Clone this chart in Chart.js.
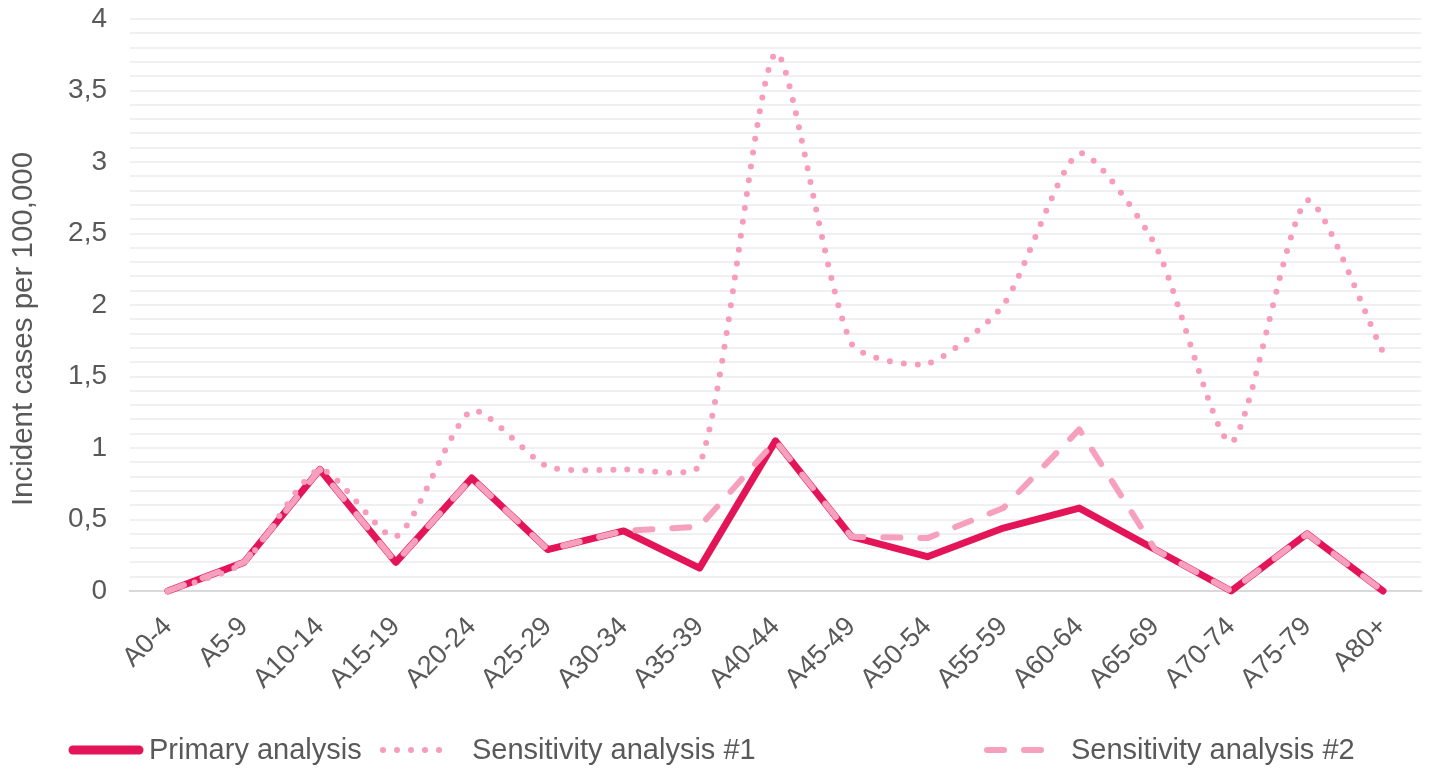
<!DOCTYPE html>
<html>
<head>
<meta charset="utf-8">
<title>Incident cases per 100,000</title>
<script src="https://cdn.jsdelivr.net/npm/chart.js@4.4.1/dist/chart.umd.min.js"></script>
<style>
  html, body { margin: 0; padding: 0; background: #ffffff; }
  #wrap { width: 1445px; height: 778px; position: relative; }
</style>
</head>
<body>
<div id="wrap"><canvas id="chartStuff"></canvas></div>
<script>
// age groups along the x axis
var ageGroups = ['A0-4', 'A5-9', 'A10-14', 'A15-19', 'A20-24', 'A25-29', 'A30-34', 'A35-39',
  'A40-44', 'A45-49', 'A50-54', 'A55-59', 'A60-64', 'A65-69', 'A70-74', 'A75-79', 'A80+'];

// values (incident cases per 100,000)
var primaryValues = [0, 0.2, 0.85, 0.2, 0.79, 0.29, 0.42, 0.16, 1.05, 0.38, 0.24, 0.44, 0.58, 0.29, 0, 0.4, 0];
var sensitivity1Values = [0, 0.2, 0.85, 0.38, 1.26, 0.87, 0.85, 0.88, 3.76, 1.73, 1.59, 2.0, 3.06, 2.42, 1.04, 2.73, 1.67];
var sensitivity2Values = [0, 0.2, 0.85, 0.2, 0.79, 0.29, 0.42, 0.45, 1.05, 0.38, 0.37, 0.58, 1.13, 0.29, 0, 0.4, 0];

var seriesNames = ['Primary analysis', 'Sensitivity analysis #1', 'Sensitivity analysis #2'];

// labelled y ticks (comma decimals like the original)
var yTickValues = [0, 0.5, 1, 1.5, 2, 2.5, 3, 3.5, 4];
var yTickLabels = ['0', '0,5', '1', '1,5', '2', '2,5', '3', '3,5', '4'];

var textColor = '#595959';
Chart.defaults.font.family = "'Liberation Sans', Arial, sans-serif";
Chart.defaults.color = textColor;

// legend along the bottom, drawn from the dataset styles
// also nudges the y title down a bit (excel centres it on the whole axis)
var bottomLegend = {
  id: 'bottomLegend',
  afterLayout: function(chart, args, opts) {
    chart.scales.y.bottom += opts.titleShift;
  },
  afterDraw: function(chart, args, opts) {
    var ctx = chart.ctx;
    ctx.save();
    chart.data.datasets.forEach(function(ds, i) {
      var slot = opts.slots[i];
      ctx.beginPath();
      ctx.lineWidth = ds.borderWidth + (opts.extraWidth[i] || 0);
      ctx.strokeStyle = ds.borderColor;
      ctx.lineCap = 'round';
      ctx.setLineDash(ds.borderDash || []);
      ctx.moveTo(slot.lineStart, opts.y);
      ctx.lineTo(slot.lineEnd, opts.y);
      ctx.stroke();
      ctx.setLineDash([]);
      ctx.fillStyle = opts.color;
      ctx.font = opts.font;
      ctx.textBaseline = 'middle';
      ctx.textAlign = 'left';
      ctx.fillText(ds.label, slot.textX, opts.y + 1);
    });
    ctx.restore();
  }
};

var ctx = document.getElementById('chartStuff').getContext('2d');
var myChart = new Chart(ctx, {
  type: 'line',
  data: {
    labels: ageGroups,
    datasets: [{
      label: seriesNames[0],
      data: primaryValues,
      borderColor: '#E31558',
      borderWidth: 7,
      borderJoinStyle: 'round',
      borderCapStyle: 'round',
      pointRadius: 0,
      tension: 0,
      order: 3
    }, {
      label: seriesNames[1],
      data: sensitivity1Values,
      borderColor: '#F79CBA',
      borderWidth: 6,
      borderDash: [0, 14],
      borderCapStyle: 'round',
      pointRadius: 0,
      tension: 0.22,
      order: 2
    }, {
      label: seriesNames[2],
      data: sensitivity2Values,
      borderColor: '#F7A0BD',
      borderWidth: 6,
      borderDash: [17, 20],
      borderCapStyle: 'round',
      borderJoinStyle: 'round',
      pointRadius: 0,
      tension: 0,
      order: 1
    }]
  },
  options: {
    responsive: true,
    maintainAspectRatio: false,
    animation: false,
    layout: { padding: { top: 4, right: 24, bottom: 77, left: 0 } },
    plugins: {
      legend: { display: false },
      tooltip: { enabled: false },
      bottomLegend: {
        y: 750,
        titleShift: 48,
        color: textColor,
        font: "29px 'Liberation Sans', Arial, sans-serif",
        extraWidth: [2, 0, 0],
        slots: [
          { lineStart: 73, lineEnd: 139, textX: 149 },
          { lineStart: 383, lineEnd: 445, textX: 472 },
          { lineStart: 987, lineEnd: 1045, textX: 1071 }
        ]
      }
    },
    scales: {
      x: {
        offset: true,
        grid: { display: false, drawTicks: false },
        border: { color: '#D9D9D9', width: 2 },
        ticks: {
          color: textColor,
          font: { size: 27 },
          minRotation: 45,
          maxRotation: 45,
          autoSkip: false,
          padding: 20
        },
        afterFit: function(scale) { scale.height = 110; }
      },
      y: {
        min: 0,
        max: 4,
        border: { display: false },
        grid: {
          drawTicks: false,
          lineWidth: 2,
          color: function(c) { return c.tick && c.tick.value === 0 ? '#D9D9D9' : '#F0F0F0'; }
        },
        ticks: {
          stepSize: 0.1,
          autoSkip: false,
          padding: 23,
          color: textColor,
          font: { size: 28 },
          callback: function(value) {
            var idx = yTickValues.findIndex(function(v) { return Math.abs(v - value) < 1e-6; });
            return idx >= 0 ? yTickLabels[idx] : '';
          }
        },
        title: {
          display: true,
          text: 'Incident cases per 100,000',
          color: textColor,
          font: { size: 29.5 },
          padding: { top: 6, bottom: 0 }
        },
        afterFit: function(scale) {
          scale.width = 130;
          scale.paddingTop = 19;
        }
      }
    }
  },
  plugins: [bottomLegend]
});
</script>
</body>
</html>
